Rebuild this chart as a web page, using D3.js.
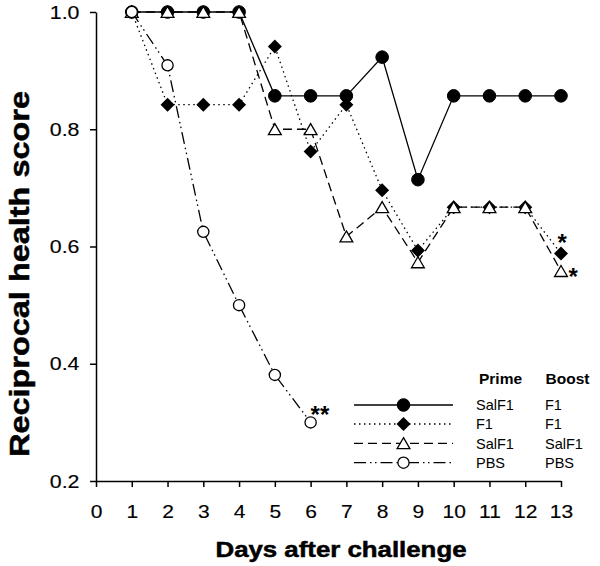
<!DOCTYPE html>
<html>
<head>
<meta charset="utf-8">
<script src="https://cdn.jsdelivr.net/npm/d3@7"></script>
<style>
  html, body { margin: 0; padding: 0; background: #fff; }
  svg { display: block; }
  text { font-family: "Liberation Sans", Arial, Helvetica, sans-serif; fill: #000; }
</style>
</head>
<body>
<svg id="chart" width="600" height="566"></svg>
<script>
// ---- data ----
const days = [1, 2, 3, 4, 5, 6, 7, 8, 9, 10, 11, 12, 13];
const pbsDays = [1, 2, 3, 4, 5, 6];
const salF1_F1 = [1.0, 1.0, 1.0, 1.0, 0.857, 0.857, 0.857, 0.923, 0.714, 0.857, 0.857, 0.857, 0.857];
const f1_F1 = [1.0, 0.842, 0.842, 0.842, 0.941, 0.762, 0.842, 0.696, 0.593, 0.667, 0.667, 0.667, 0.588];
const salF1_SalF1 = [1.0, 1.0, 1.0, 1.0, 0.8, 0.8, 0.617, 0.667, 0.573, 0.667, 0.667, 0.667, 0.558];
const pbs_PBS = [1.0, 0.909, 0.625, 0.5, 0.381, 0.3];
const xTicks = [0, 1, 2, 3, 4, 5, 6, 7, 8, 9, 10, 11, 12, 13];
const yTicks = [0.2, 0.4, 0.6, 0.8, 1.0];
const primeLabels = ["SalF1", "F1", "SalF1", "PBS"];
const boostLabels = ["F1", "F1", "SalF1", "PBS"];
const xTitle = "Days after challenge";
const yTitle = "Reciprocal health score";

// ---- chart ----
const svg = d3.select("#chart");
const x = d3.scaleLinear().domain([0, 13]).range([96, 561]);
const y = d3.scaleLinear().domain([0.2, 1.0]).range([481, 12]);

const series = [
  { xs: days, ys: salF1_F1, dash: null, marker: "circleFilled" },
  { xs: days, ys: f1_F1, dash: "1.5,3.5", marker: "diamond" },
  { xs: days, ys: salF1_SalF1, dash: "9,5", marker: "triangle" },
  { xs: pbsDays, ys: pbs_PBS, dash: "12,4,1.5,3.5,1.5,4", marker: "circleOpen" }
];

function drawMarker(g, type, cx, cy) {
  if (type === "circleFilled") {
    g.append("circle").attr("cx", cx).attr("cy", cy).attr("r", 6.3)
      .attr("fill", "#000").attr("stroke", "#000").attr("stroke-width", 1);
  } else if (type === "circleOpen") {
    g.append("circle").attr("cx", cx).attr("cy", cy).attr("r", 5.6)
      .attr("fill", "#fff").attr("stroke", "#000").attr("stroke-width", 1.3);
  } else if (type === "diamond") {
    const s = 7;
    g.append("path")
      .attr("d", `M${cx},${cy - s}L${cx + s},${cy}L${cx},${cy + s}L${cx - s},${cy}Z`)
      .attr("fill", "#000");
  } else if (type === "triangle") {
    g.append("path")
      .attr("d", `M${cx},${cy - 5.6}L${cx + 6.4},${cy + 5.4}L${cx - 6.4},${cy + 5.4}Z`)
      .attr("fill", "#fff").attr("stroke", "#000").attr("stroke-width", 1.3)
      .attr("stroke-linejoin", "miter");
  }
}

// axes
const yAxis = d3.axisLeft(y).tickValues(yTicks).tickSize(6).tickSizeOuter(0)
  .tickFormat(d3.format(".1f"));
const xAxis = d3.axisBottom(x).tickValues(xTicks).tickSize(6).tickSizeOuter(0)
  .tickFormat(d3.format("d"));

const gy = svg.append("g").attr("transform", "translate(96,0)").call(yAxis);
const gx = svg.append("g").attr("transform", "translate(0,481)").call(xAxis);
[gx, gy].forEach(g => {
  g.select(".domain").attr("stroke", "#000").attr("stroke-width", 1.5);
  g.selectAll(".tick line").attr("stroke", "#000").attr("stroke-width", 1.5);
  g.selectAll(".tick text").attr("font-size", 17.5).attr("fill", "#000")
    .attr("font-family", "'Liberation Sans', Arial, sans-serif")
    .attr("stroke", "#000").attr("stroke-width", 0.15);
});
gy.selectAll(".tick text").attr("x", 0).attr("dy", "0.35em")
  .attr("text-anchor", "end")
  .attr("transform", "translate(-16.5,0) scale(1.22,1)");
gx.selectAll(".tick text").attr("y", 0).attr("dy", 0)
  .attr("transform", "translate(0,36.5) scale(1.2,1)");

// axis titles
svg.append("text").attr("x", 341).attr("y", 557)
  .attr("text-anchor", "middle").attr("font-weight", "bold").attr("font-size", 21.5)
  .attr("stroke", "#000").attr("stroke-width", 0.5)
  .attr("textLength", 251).attr("lengthAdjust", "spacingAndGlyphs")
  .text(xTitle);
svg.append("text").attr("transform", "translate(29,274) rotate(-90)")
  .attr("text-anchor", "middle").attr("font-weight", "bold").attr("font-size", 28)
  .attr("stroke", "#000").attr("stroke-width", 0.5)
  .attr("textLength", 366).attr("lengthAdjust", "spacingAndGlyphs")
  .text(yTitle);

// series lines and markers
const plot = svg.append("g");
series.forEach(s => {
  const pts = s.xs.map((d, i) => [d, s.ys[i]]);
  const line = d3.line().x(d => x(d[0])).y(d => y(d[1]));
  plot.append("path").datum(pts).attr("d", line)
    .attr("fill", "none").attr("stroke", "#000").attr("stroke-width", 1.3)
    .attr("stroke-dasharray", s.dash);
});
series.forEach(s => {
  const g = plot.append("g");
  s.xs.forEach((d, i) => drawMarker(g, s.marker, x(d), y(s.ys[i])));
});

// significance marks
svg.append("text").attr("x", x(6)).attr("y", y(pbs_PBS[5]) + 1)
  .attr("font-size", 24).attr("font-weight", "bold").text("**");
svg.append("text").attr("x", x(13) - 3.5).attr("y", y(f1_F1[12]) - 3)
  .attr("font-size", 24).attr("font-weight", "bold").text("*");
svg.append("text").attr("x", x(13) + 7.5).attr("y", y(salF1_SalF1[12]) + 14)
  .attr("font-size", 24).attr("font-weight", "bold").text("*");

// legend
const legend = svg.append("g");
const rowY = [405, 424, 443.3, 462.7];
legend.append("text").attr("x", 479).attr("y", 383.5).attr("font-size", 15.5)
  .attr("font-weight", "bold").text("Prime");
legend.append("text").attr("x", 545.5).attr("y", 383.5).attr("font-size", 15.5)
  .attr("font-weight", "bold").text("Boost");
series.forEach((s, i) => {
  const ry = rowY[i];
  legend.append("line").attr("x1", 354).attr("x2", 453).attr("y1", ry).attr("y2", ry)
    .attr("stroke", "#000").attr("stroke-width", 1.3).attr("stroke-dasharray", s.dash);
  drawMarker(legend, s.marker, 403.5, ry);
  legend.append("text").attr("x", 476).attr("y", ry + 5.2).attr("font-size", 14.5)
    .text(primeLabels[i]);
  legend.append("text").attr("x", 545).attr("y", ry + 5.2).attr("font-size", 14.5)
    .text(boostLabels[i]);
});
</script>
</body>
</html>
